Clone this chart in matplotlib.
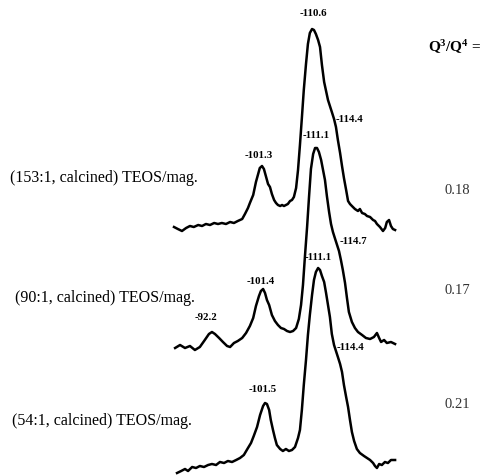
import matplotlib
matplotlib.use('Agg')
import matplotlib.pyplot as plt

plt.rcParams['font.family'] = 'Liberation Serif'
plt.rcParams['mathtext.fontset'] = 'custom'
plt.rcParams['mathtext.rm'] = 'Liberation Serif'
plt.rcParams['mathtext.bf'] = 'Liberation Serif:bold'
plt.rcParams['mathtext.default'] = 'bf'

# 29Si MAS NMR traces: chemical shift (ppm) / intensity (main peak ~100)
top_ppm = [-85.3, -86.0, -86.75, -87.5, -88.2, -88.9, -89.7, -90.4, -91.1, -91.85,
           -92.6, -93.3, -94.0, -94.75, -95.5, -96.2, -96.9, -97.7, -98.2, -98.75,
           -99.1, -99.7, -100.2, -100.6, -100.9, -101.3, -101.65, -102.0, -102.4, -102.75,
           -103.1, -103.5, -103.85, -104.2, -104.6, -104.95, -105.3, -105.65, -106.0, -106.4,
           -106.75, -107.1, -107.5, -107.85, -108.2, -108.55, -108.9, -109.3, -109.65, -110.0,
           -110.4, -110.75, -111.1, -111.5, -111.85, -112.2, -112.6, -112.95, -113.3, -113.65,
           -114.0, -114.4, -114.75, -115.1, -115.5, -115.85, -116.2, -116.6, -116.95, -117.3,
           -117.65, -118.2, -118.75, -119.1, -119.5, -120.0, -120.4, -120.95, -121.5, -121.85,
           -122.2, -122.75, -123.3, -123.7, -124.0, -124.4, -124.75, -125.1, -125.5]
top_int = [0.5, -0.5, -1.5, 0, 1, 0.5, 1.5, 1, 2, 1.5,
           2.5, 2, 2.5, 2, 3, 2.5, 3.5, 4.5, 7, 10,
           12.5, 16.5, 23, 27, 30, 31, 29.5, 26, 22, 20.5,
           17, 14, 12.5, 11.5, 11, 11.5, 11, 11.5, 12, 13.5,
           14, 15.5, 20, 29, 41.5, 55, 69, 82, 92, 97.5,
           99.5, 99, 97, 94, 90.5, 81.5, 73, 68.5, 64, 61,
           58, 54.5, 50.5, 44, 37.5, 31, 25, 19, 13.5, 12,
           11, 9.5, 8.5, 9.5, 7.5, 7, 6, 5.5, 4, 3.5,
           2, 0.5, -1.5, 0, 3, 4, 1, -0.5, -1]

mid_ppm = [-85.5, -86.4, -87.3, -88.2, -89.1, -90.0, -90.9, -91.65, -92.2, -92.75,
           -93.5, -94.2, -94.95, -95.5, -96.2, -96.9, -97.7, -98.4, -99.1, -99.7,
           -100.2, -100.75, -101.1, -101.5, -101.85, -102.2, -102.6, -103.1, -103.65, -104.2,
           -104.75, -105.3, -105.85, -106.4, -106.95, -107.5, -108.0, -108.4, -108.75, -109.1,
           -109.5, -109.85, -110.2, -110.6, -110.95, -111.3, -111.65, -112.05, -112.4, -112.75,
           -113.1, -113.5, -113.85, -114.2, -114.6, -114.95, -115.3, -115.65, -116.0, -116.4,
           -116.75, -117.1, -117.65, -118.2, -118.75, -119.5, -120.2, -120.95, -121.65, -122.2,
           -122.6, -122.95, -123.5, -124.0, -124.75, -125.5]
mid_int = [-1.5, 0, -1.5, -0.5, -2.5, -1, 2.5, 5.5, 6.5, 5.5,
           3.5, 1.5, -0.5, -1, 1, 2, 3.5, 6, 9.5, 13.5,
           19.5, 24.5, 27, 28, 26, 22.5, 20, 15, 12, 10,
           8.5, 8, 7, 6.5, 7, 8.5, 13, 20, 30, 44,
           59, 74, 88, 95.5, 98.5, 98.5, 96.5, 92.5, 87.5, 82.5,
           74.5, 66.5, 60.5, 56.5, 53, 50, 47, 42.5, 37.5, 31,
           23.5, 16.5, 11.5, 8.5, 6.5, 5, 3.5, 3, 4, 6,
           3.5, 1.5, 2.5, 1, 1.5, 0.5]

bot_ppm = [-85.85, -86.6, -87.3, -87.85, -88.6, -89.3, -90.0, -90.75, -91.5, -92.2,
           -92.95, -93.65, -94.4, -95.1, -95.85, -96.6, -97.3, -98.0, -98.75, -99.3,
           -99.8, -100.4, -100.95, -101.5, -101.85, -102.2, -102.6, -102.9, -103.3, -103.65,
           -104.0, -104.6, -105.1, -105.65, -106.2, -106.75, -107.3, -107.85, -108.2, -108.55,
           -108.9, -109.3, -109.65, -110.0, -110.4, -110.75, -111.1, -111.5, -111.85, -112.2,
           -112.6, -112.95, -113.3, -113.65, -114.0, -114.4, -114.75, -115.1, -115.5, -115.85,
           -116.2, -116.6, -116.95, -117.3, -117.65, -118.05, -118.55, -119.1, -119.85, -120.4,
           -120.95, -121.5, -121.85, -122.2, -122.6, -123.1, -123.65, -124.2, -124.75, -125.5]
bot_int = [-5.5, -4.5, -3.5, -4.5, -2.5, -3, -2, -2.5, -1.5, -1,
           -1.5, 0, -0.5, 0.5, 0, 1, 2, 3.5, 7, 9.5,
           13, 17.5, 23.5, 28, 29.5, 29, 26, 21, 16, 12,
           8.5, 6.5, 5.5, 6.5, 5.5, 6, 7.5, 12, 16, 26,
           38.5, 51, 63.5, 73.5, 83.5, 91, 95, 97, 96, 93,
           90, 84.5, 78.5, 72.5, 64, 58.5, 55.5, 52.5, 49, 45,
           38.5, 32.5, 27.5, 21, 15, 10.5, 6.5, 4.5, 3, 2,
           1, -0.5, -2, -3, -1, -1.5, 0, -0.5, 1, 1]

samples = ['(153:1, calcined) TEOS/mag.', '(90:1, calcined) TEOS/mag.', '(54:1, calcined) TEOS/mag.']
q_ratio = ['0.18', '0.17', '0.21']
peak_labels = ['-110.6', '-114.4', '-101.3', '-111.1', '-114.7', '-101.4', '-92.2',
               '-111.1', '-114.4', '-101.5']

offsets = [124, 65.5, 7]

fig = plt.figure(figsize=(4.96, 4.76), dpi=100)
ax = fig.add_axes([0, 0, 1, 1])
ax.set_xlim(-53.66, -143.85)
ax.set_ylim(0, 238)
ax.axis('off')

spectra = [(top_ppm, top_int), (mid_ppm, mid_int), (bot_ppm, bot_int)]
for (ppm, inten), off in zip(spectra, offsets):
    ax.plot(ppm, [v + off for v in inten], color='black', lw=1.8, solid_joinstyle='round')

# peak labels (x ppm, y, alignment)
lab_pos = [(-110.57, 231, 'center'), (-114.6, 178, 'left'), (-100.75, 160, 'center'),
           (-111.1, 170, 'center'), (-115.4, 117, 'left'), (-101.1, 97.5, 'center'),
           (-91.1, 79, 'center'), (-111.5, 109, 'center'), (-114.85, 64.5, 'left'),
           (-101.5, 43, 'center')]
for txt, (x, y, ha) in zip(peak_labels, lab_pos):
    ax.text(x, y, txt, fontsize=7.8, fontweight='bold', ha=ha, va='center')

lab_x = [-55.5, -56.4, -55.85]
lab_y = [149, 89, 27.5]
for s, x, y in zip(samples, lab_x, lab_y):
    ax.text(x, y, s, fontsize=11.5, ha='left', va='center')

ax.text(-131.5, 214.5, r'Q$^{3}$/Q$^{4}$ =', fontsize=11, fontweight='bold', ha='left', va='center')
q_y = [143, 93, 35.5]
for q, y in zip(q_ratio, q_y):
    ax.text(-136.75, y, q, fontsize=10.5, ha='center', va='center', color='#333333')

fig.savefig('out.png', dpi=100)
